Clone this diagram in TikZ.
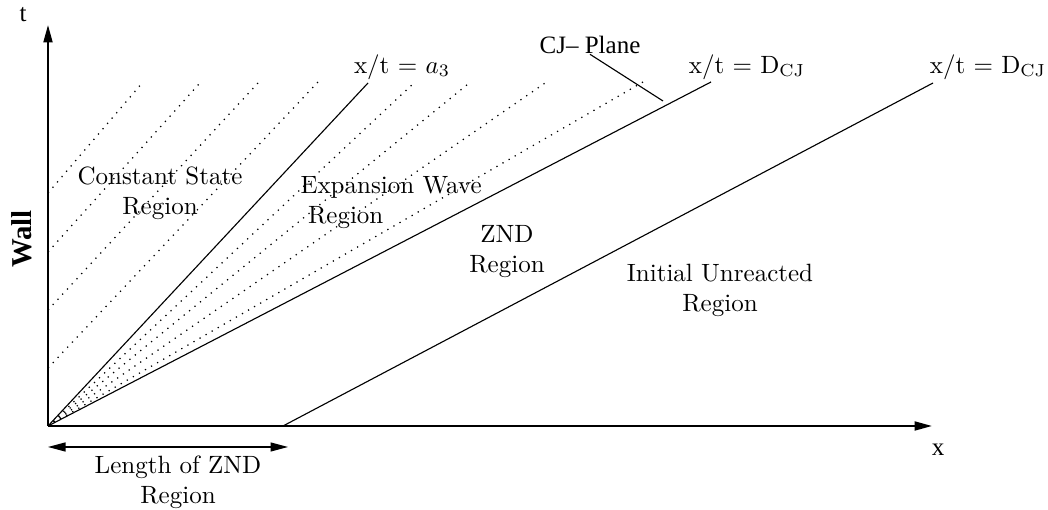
\documentclass[tikz,border=0pt]{standalone}
\usepackage{fontspec}
\newfontfamily\timesfont{Liberation Serif}
\usetikzlibrary{
  arrows.meta,
  positioning
}

\begin{document}
\begin{tikzpicture}[
    x=0.4pt, y=-0.4pt,
    >={Triangle[length=7pt,width=3.6pt]},
    eixo/.style={->, line width=0.8pt},
    onda/.style={line width=0.45pt},
    caract/.style={line width=0.5pt, dash pattern=on 0.5pt off 2.3pt},
    regiao/.style={inner sep=0pt, font=\normalsize},
    rotulo/.style={inner sep=0pt, font=\timesfont}
  ]
    \useasboundingbox (0,0) rectangle (1048,510);

    % Eixos
    \coordinate (o) at (48,426);
    \coordinate (ttop) at (48,25);
    \coordinate (xend) at (932,426);
    \draw[eixo] (o) -- (ttop);
    \draw[eixo] (o) -- (xend);
    \node[rotulo] (tlab) at (23,15) {t};
    \node[rotulo] (xlab) at (938,450) {x};
    \node[rotulo, font=\timesfont\fontsize{11.5}{13}\selectfont\bfseries, rotate=90] (wall) at (22,239) {Wall};

    % Ondas
    \coordinate (a3top) at (368,83);
    \coordinate (cjtop) at (711,82);
    \coordinate (shk0) at (283,426);
    \coordinate (shktop) at (933,83);
    \draw[onda] (o) -- (a3top);
    \draw[onda] (o) -- (cjtop);
    \draw[onda] (shk0) -- (shktop);

    % Leque de expansao
    \foreach \i/\px/\py in {1/415/82, 2/468/84, 3/548/81, 4/643/82} {
      \coordinate (fan\i) at (\px,\py);
      \draw[caract] (o) -- (fan\i);
    }

    % Regiao de estado constante
    \foreach \i/\ya/\xb/\yb in {1/193/143/82, 2/252/199/84, 3/310/258/83, 4/368/318/82} {
      \coordinate (cw\i) at (48,\ya);
      \coordinate (ct\i) at (\xb,\yb);
      \draw[caract] (cw\i) -- (ct\i);
    }

    % Rotulos das ondas
    \node[regiao] (la3) at (402,67) {x/t $=$ $a_3$};
    \node[regiao] (lcj1) at (747,67) {x/t $=$ D$_{\mathrm{CJ}}$};
    \node[regiao] (lcj2) at (988,67) {x/t $=$ D$_{\mathrm{CJ}}$};
    \node[rotulo] (cjplane) at (590,45) {CJ– Plane};
    \coordinate (cjfoot) at (663,101);
    \draw[onda] (cjplane.south) -- (cjfoot);

    % Regioes
    \node[regiao, align=center] (rconst) at (160,193) {Constant State\\Region};
    \node[regiao, align=left, anchor=west] (rexp) at (300,203) {Expansion Wave\\\hspace*{3pt}Region};
    \node[regiao, align=center] (rznd) at (507,252) {ZND\\Region};
    \node[regiao, align=center] (rinit) at (720,290) {Initial Unreacted\\Region};

    % Comprimento da zona ZND
    \coordinate (la) at (48,447);
    \coordinate (lb) at (288,447);
    \draw[<->, line width=0.5pt] (la) -- (lb);
    \node[regiao, align=center] (rlen) at (178,482) {Length of ZND\\Region};

\end{tikzpicture}
\end{document}
